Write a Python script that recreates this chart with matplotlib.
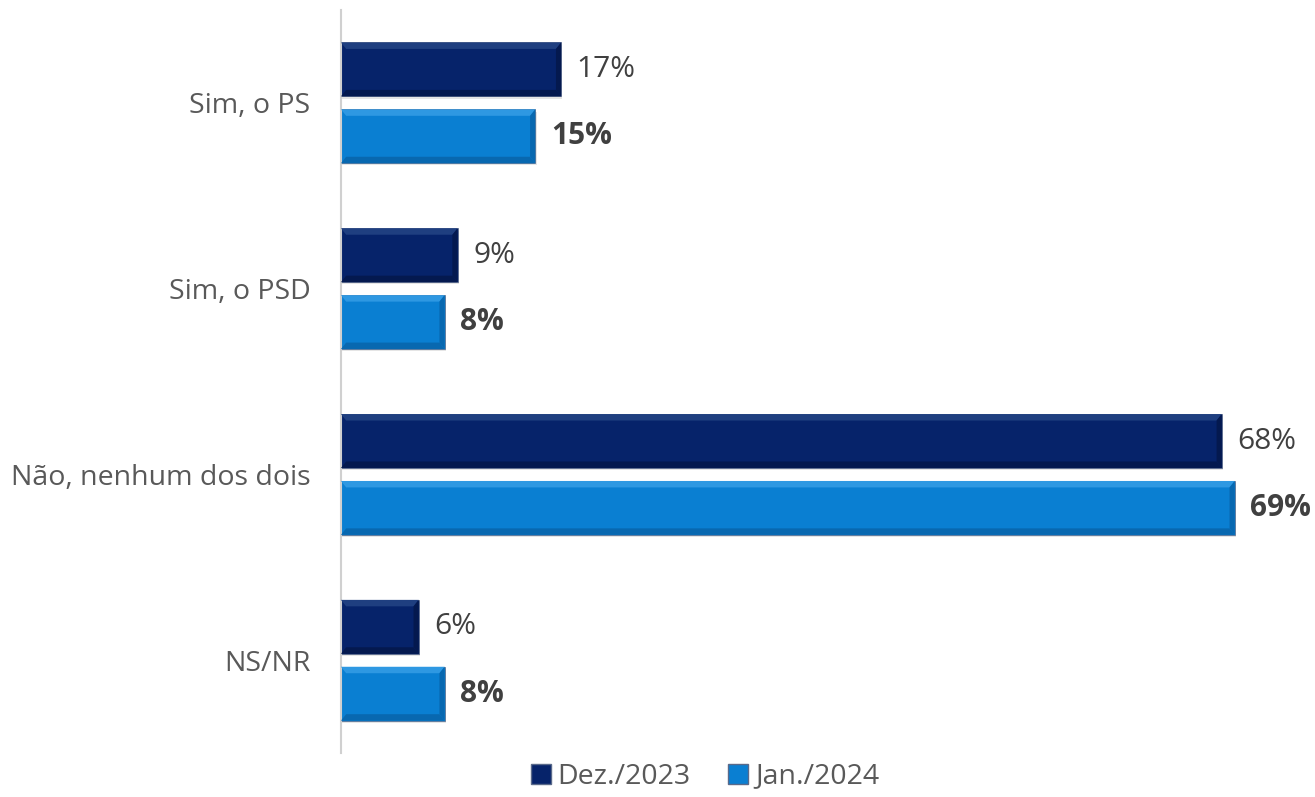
import matplotlib.pyplot as plt
import numpy as np
from matplotlib.patches import Polygon

categories = ["Sim, o PS", "Sim, o PSD", "Não, nenhum dos dois", "NS/NR"]
dez_2023 = [17, 9, 68, 6]
jan_2024 = [15, 8, 69, 8]
series_names = ["Dez./2023", "Jan./2024"]

DARK = "#06236a"
LIGHT = "#0a7fd2"
TXT = "#595959"
VAL = "#404040"

plt.rcParams['font.family'] = ['Open Sans', 'DejaVu Sans']

fig = plt.figure(figsize=(13.15, 7.97), dpi=100)
ax = fig.add_axes([0.2593, 0.055, 0.7407, 0.9325])

y = np.arange(len(categories))
h = 0.29
off = 0.18


def bevel(ax, x0, yc, w, hh, base, top_c, bot_c):
    # flat face plus lighter top / darker bottom+right edges
    ax.barh(yc + 0.012, w, height=hh, left=x0 + 0.1, color="#000000", alpha=0.10, zorder=1)
    ax.barh(yc, w, height=hh, left=x0, color=base, edgecolor="#5a6a8a", linewidth=0.5, zorder=2)
    dx = 0.4
    dy = hh * 0.12
    y0, y1 = yc - hh / 2, yc + hh / 2  # y axis inverted: y0 is top
    ax.add_patch(Polygon([[x0, y0], [x0 + w, y0], [x0 + w - dx, y0 + dy], [x0 + dx, y0 + dy]],
                         closed=True, color=top_c, lw=0, zorder=3))
    ax.add_patch(Polygon([[x0, y1], [x0 + w, y1], [x0 + w - dx, y1 - dy], [x0 + dx, y1 - dy]],
                         closed=True, color=bot_c, lw=0, zorder=3))
    ax.add_patch(Polygon([[x0 + w, y0], [x0 + w, y1], [x0 + w - dx, y1 - dy], [x0 + w - dx, y0 + dy]],
                         closed=True, color=bot_c, lw=0, zorder=3))


for i in range(len(categories)):
    bevel(ax, 0, y[i] - off, dez_2023[i], h, DARK, "#1f3f80", "#04194f")
    bevel(ax, 0, y[i] + off, jan_2024[i], h, LIGHT, "#2e98e2", "#0868b0")
    ax.text(dez_2023[i] + 1.2, y[i] - off, f"{dez_2023[i]}%", va="center", ha="left",
            fontsize=21.5, color=VAL)
    ax.text(jan_2024[i] + 1.2, y[i] + off, f"{jan_2024[i]}%", va="center", ha="left",
            fontsize=21.5, color=VAL, fontweight="bold")

ax.set_xlim(0, 75.2)
ax.set_ylim(3.5, -0.5)
ax.set_yticks(y)
ax.set_yticklabels(categories, fontsize=20.5, color=TXT)
ax.tick_params(axis="y", length=0, pad=22)
ax.set_xticks([])
for s in ["top", "right", "bottom"]:
    ax.spines[s].set_visible(False)
ax.spines["left"].set_color("#d0d0d0")
ax.spines["left"].set_linewidth(1.5)

# legend
h1 = plt.Rectangle((0, 0), 1, 1, facecolor=DARK, edgecolor="#5a6a8a")
h2 = plt.Rectangle((0, 0), 1, 1, facecolor=LIGHT, edgecolor="#5a6a8a")
fig.legend([h1, h2], series_names, loc="lower center", bbox_to_anchor=(0.536, -0.024),
           ncol=2, frameon=False, fontsize=20.5, labelcolor=TXT, handlelength=0.7,
           handleheight=0.7, handletextpad=0.25, columnspacing=1.3)

fig.savefig("out.png", dpi=100)
